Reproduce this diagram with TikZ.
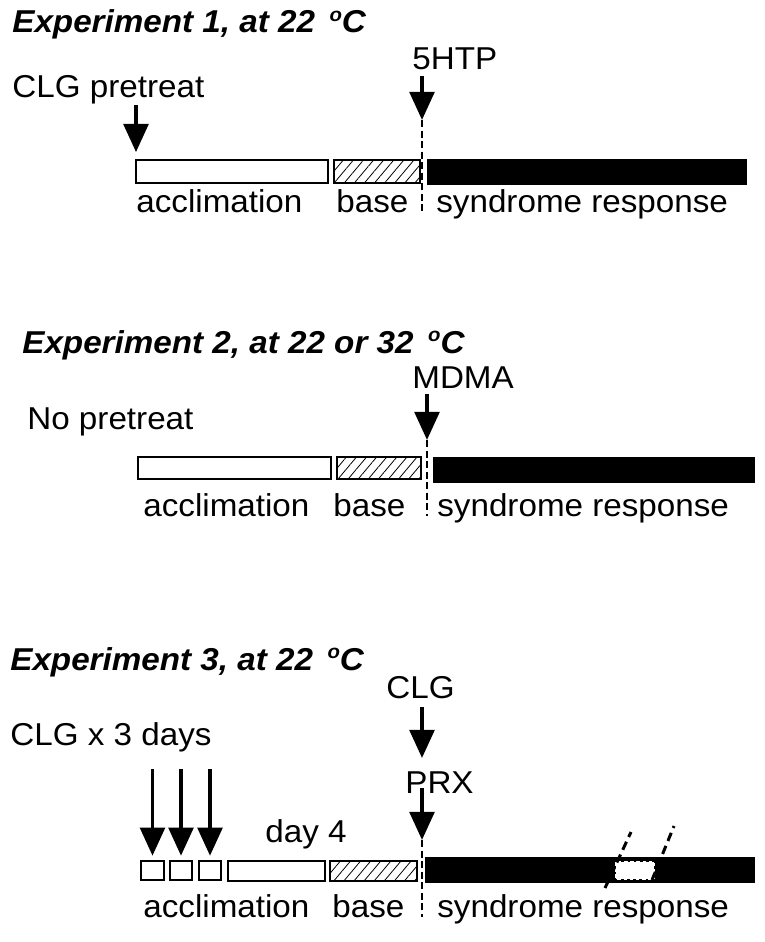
\documentclass[tikz,border=0pt]{standalone}
\usepackage{fontspec}
\setmainfont{Liberation Sans}[FakeStretch=1.05]
\usetikzlibrary{arrows.meta,patterns.meta,fit}

\newcommand\degr{\,\raisebox{0.36em}{\fontsize{11}{11}\selectfont o}}

\begin{document}
\begin{tikzpicture}[x=0.02cm, y=-0.02cm,
  lbl/.style={anchor=base west, inner sep=0pt, font=\fontsize{18}{21}\selectfont},
  ttl/.style={anchor=base west, inner sep=0pt, font=\fontsize{18}{21}\selectfont\bfseries\itshape},
  clear/.style={draw, line width=1pt, inner sep=0pt, outer sep=0pt},
  hatched/.style={clear, pattern={Lines[angle=50, distance=4.4pt, line width=0.45pt]}},
  syndrome/.style={fill=black, inner sep=0pt, outer sep=0pt},
  dose/.style={-{Triangle[width=14pt, length=16pt]}, line width=2.2pt},
  cut/.style={line width=0.8pt, dash pattern=on 4pt off 2pt}]

\useasboundingbox (0,0) rectangle (764,942);

% Experiment 1
\node (title1) [ttl] at (12,33) {Experiment 1, at 22 \degr C};
\node (pre1) [lbl] at (12,98) {CLG pretreat};
\node (htp) [lbl] at (412,70) {5HTP};
\node (acc1) [clear, fit={(136,160) (328,183)}] {};
\node (base1) [hatched, fit={(334,160) (420,183)}] {};
\node (resp1) [syndrome, fit={(427,159) (747,185)}] {};
\node (lacc1) [lbl] at (136,213) {acclimation};
\node (lbase1) [lbl] at (336,213) {base};
\node (lresp1) [lbl] at (436,213) {syndrome response};
\coordinate (inj1) at (422,120);

\draw [dose, shorten >=4.5pt] (acc1.north west |- pre1.south) -- (acc1.north west);
\draw [dose, shorten <=3pt] (htp.south -| inj1) -- (inj1);
\draw [cut] (inj1) -- (inj1 |- lresp1.base);

% Experiment 2
\node (title2) [ttl] at (22,353) {Experiment 2, at 22 or 32 \degr C};
\node (pre2) [lbl] at (27,429) {No pretreat};
\node (mdma) [lbl] at (412,388) {MDMA};
\node (acc2) [clear, fit={(138,457) (331,479)}] {};
\node (base2) [hatched, fit={(337,457) (421,479)}] {};
\node (resp2) [syndrome, fit={(433,457) (755,483)}] {};
\node (lacc2) [lbl] at (143,516) {acclimation};
\node (lbase2) [lbl] at (333,516) {base};
\node (lresp2) [lbl] at (437,516) {syndrome response};
\coordinate (inj2) at (427,440);

\draw [dose, shorten <=3pt] (mdma.south -| inj2) -- (inj2);
\draw [cut] (inj2) -- (inj2 |- lresp2.base);

% Experiment 3
\node (title3) [ttl] at (10,670) {Experiment 3, at 22 \degr C};
\node (pre3) [lbl] at (10,745) {CLG x 3 days};
\node (clg3) [lbl] at (386,698) {CLG};
\node (prx) [lbl] at (405,793) {PRX};
\node (day4) [lbl] at (265,842) {day 4};
\foreach \i/\l/\r in {1/141/164, 2/170/192, 3/199/221}
  \node (d\i) [clear, fit={(\l,861) (\r,880)}] {};
\node (acc3) [clear, fit={(228,861) (325,881)}] {};
\node (base3) [hatched, fit={(330,861) (417,881)}] {};
\node (resp3) [syndrome, fit={(425,857) (755,883)}] {};
\node (lacc3) [lbl] at (143,917) {acclimation};
\node (lbase3) [lbl] at (332,917) {base};
\node (lresp3) [lbl] at (437,917) {syndrome response};
\coordinate (inj3a) at (422,758);
\coordinate (inj3b) at (422,840);

\foreach \i in {1,2,3}
  \draw [dose, shorten <=10pt, shorten >=3pt] (d\i.north |- pre3.south) -- (d\i.north);
\draw [dose, shorten <=5pt] (clg3.south -| inj3a) -- (inj3a);
\draw [dose, shorten <=-3pt] (prx.south -| inj3b) -- (inj3b);
\draw [cut] (inj3b) -- (inj3b |- lresp3.base);

% break in the response bar
\draw [fill=white, draw=white, line width=1.5pt, dash pattern=on 2pt off 1.5pt] (616,862) rectangle (654,879);
\draw [line width=1.7pt, dash pattern=on 5pt off 3pt] (605,888) -- (631,832);
\draw [line width=1.7pt, dash pattern=on 5pt off 3pt] (652,880) -- (674,826);
\end{tikzpicture}
\end{document}
